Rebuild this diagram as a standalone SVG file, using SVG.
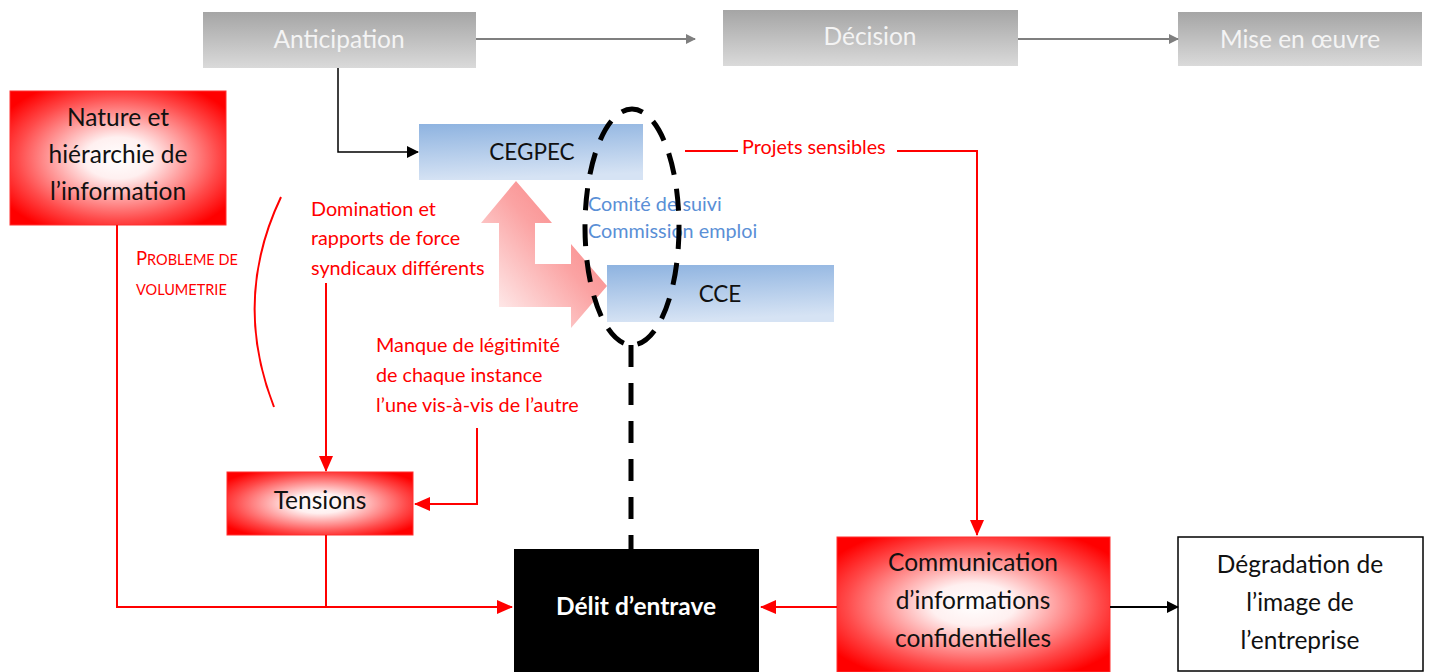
<svg xmlns="http://www.w3.org/2000/svg" width="1431" height="672" viewBox="0 0 1431 672">
  <defs>
    <linearGradient id="gray" x1="0" y1="0" x2="0" y2="1">
      <stop offset="0" stop-color="#a5a5a5"/>
      <stop offset="1" stop-color="#dadada"/>
    </linearGradient>
    <linearGradient id="blue" x1="0" y1="0" x2="0.15" y2="1">
      <stop offset="0" stop-color="#8eb3e0"/>
      <stop offset="1" stop-color="#d6e3f4"/>
    </linearGradient>
    <radialGradient id="redglow" cx="0.5" cy="0.5" r="0.62">
      <stop offset="0" stop-color="#ffffff"/>
      <stop offset="0.25" stop-color="#fff0f0"/>
      <stop offset="0.75" stop-color="#ff4a4a"/>
      <stop offset="1" stop-color="#ff0000"/>
    </radialGradient>
    <linearGradient id="pink" x1="0" y1="1" x2="1" y2="0">
      <stop offset="0" stop-color="#ffffff"/>
      <stop offset="0.55" stop-color="#fba3a3"/>
      <stop offset="1" stop-color="#f87575"/>
    </linearGradient>
    <marker id="mGray" markerWidth="10" markerHeight="10" refX="9" refY="5" orient="auto" markerUnits="userSpaceOnUse" viewBox="0 0 10 10">
      <path d="M0,0 L10,5 L0,10 z" fill="#7f7f7f"/>
    </marker>
    <marker id="mBlack" markerWidth="12" markerHeight="12" refX="11" refY="6" orient="auto" markerUnits="userSpaceOnUse" viewBox="0 0 12 12">
      <path d="M0,0 L12,6 L0,12 z" fill="#000"/>
    </marker>
    <marker id="mRed" markerWidth="16" markerHeight="14" refX="15" refY="7" orient="auto" markerUnits="userSpaceOnUse" viewBox="0 0 16 14">
      <path d="M0,0 L16,7 L0,14 z" fill="#ff0000"/>
    </marker>
    <style>
      text { font-family: Lato, "Open Sans", "Liberation Sans", sans-serif; }
      .top { font-size: 24.5px; fill: #f4f4f4; text-anchor: middle; }
      .big { font-size: 24.5px; fill: #111; text-anchor: middle; }
      .lbl { font-size: 19.8px; fill: #ff0000; }
      .blu { font-size: 19.8px; fill: #5a8fd6; }
      .sc { font-size: 14.5px; fill: #ff0000; }
      .red { fill: url(#redglow); stroke: #ff3030; stroke-width: 1; }
      .rl { fill: none; stroke: #ff0000; stroke-width: 2; }
    </style>
  </defs>

  <!-- process stages -->
  <g id="anticipation">
    <rect x="203" y="12" width="273" height="56" fill="url(#gray)"/>
    <text class="top" x="339" y="48">Anticipation</text>
  </g>
  <g id="decision">
    <rect x="723" y="10" width="295" height="56" fill="url(#gray)"/>
    <text class="top" x="870" y="45">Décision</text>
  </g>
  <g id="mise-en-oeuvre">
    <rect x="1178" y="12" width="244" height="54" fill="url(#gray)"/>
    <text class="top" x="1300" y="48">Mise en œuvre</text>
  </g>

  <!-- bodies -->
  <g id="cegpec">
    <rect x="419" y="124" width="224" height="56" fill="url(#blue)"/>
    <text class="big" x="532" y="160" style="font-size:22.5px">CEGPEC</text>
  </g>
  <g id="cce">
    <rect x="607" y="265" width="227" height="57" fill="url(#blue)"/>
    <text class="big" x="720" y="302" style="font-size:22.5px">CCE</text>
  </g>

  <!-- bent double arrow between CEGPEC and CCE -->
  <g id="relation-arrow">
    <path d="M516,181 L552,223 L535,223 L535,264 L571,264 L571,244 L607,286 L571,328 L571,307 L499,307 L499,223 L481,223 Z" fill="url(#pink)"/>
  </g>

  <g id="comite">
    <text class="blu" x="588" y="211">Comité de suivi</text>
    <text class="blu" x="588" y="238">Commission emploi</text>
  </g>

  <!-- risk nodes -->
  <g id="nature">
    <rect class="red" x="10" y="91" width="216" height="134"/>
    <text class="big" x="118" y="126">Nature et</text>
    <text class="big" x="118" y="163">hiérarchie de</text>
    <text class="big" x="118" y="200">l’information</text>
  </g>
  <g id="tensions">
    <rect class="red" x="227" y="472" width="186" height="63"/>
    <text class="big" x="320" y="509">Tensions</text>
  </g>
  <g id="communication">
    <rect class="red" x="837" y="537" width="273" height="135"/>
    <text class="big" x="973" y="571">Communication</text>
    <text class="big" x="973" y="609">d’informations</text>
    <text class="big" x="973" y="647">confidentielles</text>
  </g>
  <g id="delit">
    <rect x="514" y="549" width="245" height="123" fill="#000"/>
    <text x="636" y="615" style="font-size:24.5px;font-weight:bold;fill:#fff;text-anchor:middle">Délit d’entrave</text>
  </g>
  <g id="degradation">
    <rect x="1178" y="537" width="245" height="134" fill="#fff" stroke="#000" stroke-width="1.5"/>
    <text class="big" x="1300" y="573">Dégradation de</text>
    <text class="big" x="1300" y="611">l’image de</text>
    <text class="big" x="1300" y="649">l’entreprise</text>
  </g>

  <!-- free labels -->
  <g id="labels">
    <text class="lbl" x="311" y="216">Domination et</text>
    <text class="lbl" x="311" y="245">rapports de force</text>
    <text class="lbl" x="311" y="275">syndicaux différents</text>
    <text class="lbl" x="376" y="352">Manque de légitimité</text>
    <text class="lbl" x="376" y="382">de chaque instance</text>
    <text class="lbl" x="376" y="412">l’une vis-à-vis de l’autre</text>
    <text class="lbl" x="742" y="154">Projets sensibles</text>
    <text class="sc" x="136" y="265"><tspan style="font-size:18.5px">P</tspan>ROBLEME DE</text>
    <text class="sc" x="136" y="295">VOLUMETRIE</text>
  </g>

  <!-- connectors -->
  <g id="connectors">
    <line x1="476" y1="39" x2="695" y2="39" stroke="#7f7f7f" stroke-width="2" marker-end="url(#mGray)"/>
    <line x1="1018" y1="39" x2="1178" y2="39" stroke="#7f7f7f" stroke-width="2" marker-end="url(#mGray)"/>
    <polyline points="338,68 338,152 418,152" fill="none" stroke="#000" stroke-width="1.5" marker-end="url(#mBlack)"/>
    <line x1="1110" y1="607" x2="1178" y2="607" stroke="#000" stroke-width="2" marker-end="url(#mBlack)"/>

    <!-- dashed grouping of the committees -->
    <ellipse cx="632" cy="227" rx="47" ry="118" fill="none" stroke="#000" stroke-width="5" stroke-dasharray="22 14"/>
    <line x1="631" y1="345" x2="631" y2="549" stroke="#000" stroke-width="5" stroke-dasharray="22 16"/>

    <line class="rl" x1="685" y1="151" x2="738" y2="151"/>
    <polyline class="rl" points="897,151 977,151 977,535" marker-end="url(#mRed)"/>
    <line class="rl" x1="326" y1="283" x2="326" y2="471" marker-end="url(#mRed)"/>
    <polyline class="rl" points="477,428 477,504 415,504" marker-end="url(#mRed)"/>
    <polyline class="rl" points="117,225 117,607 512,607" marker-end="url(#mRed)"/>
    <line class="rl" x1="326" y1="535" x2="326" y2="607"/>
    <line class="rl" x1="837" y1="607" x2="761" y2="607" marker-end="url(#mRed)"/>
    <path class="rl" d="M281,197 Q232,300 274,407"/>
  </g>
</svg>
